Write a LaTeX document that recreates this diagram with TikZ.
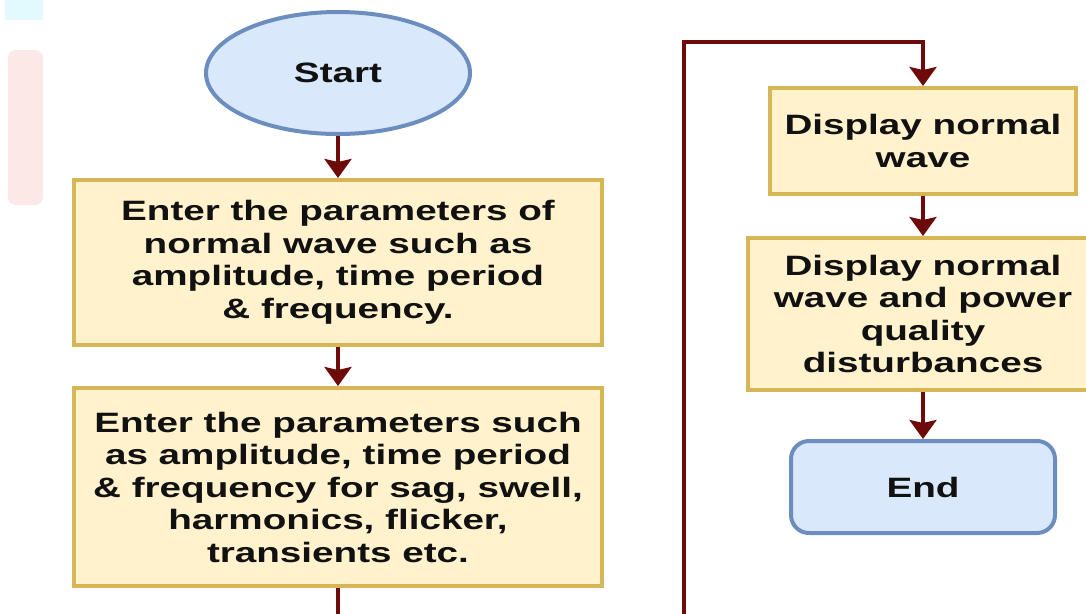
\documentclass[tikz,border=0pt]{standalone}
\usepackage{fontspec}
\newfontfamily\diafont[FakeStretch=1.38]{Liberation Sans}
\usetikzlibrary{arrows.meta,shapes.geometric}
\definecolor{yfill}{HTML}{FFF2CC}
\definecolor{ydraw}{HTML}{D6B656}
\definecolor{bfill}{HTML}{DAE8FC}
\definecolor{bdraw}{HTML}{6C8EBF}
\definecolor{arr}{HTML}{6E0A0A}
\definecolor{txt}{HTML}{111111}
\definecolor{ghostcyan}{HTML}{E2FAFD}
\definecolor{ghostpink}{HTML}{FDE8E8}
\tikzset{
  every node/.style={font=\diafont\bfseries\fontsize{28}{32.5}\selectfont, text=txt, align=center, inner sep=0pt},
  procbox/.style={rectangle, draw=ydraw, fill=yfill, line width=4pt},
  termellipse/.style={ellipse, draw=bdraw, fill=bfill, line width=4pt},
  termbox/.style={rectangle, rounded corners=18pt, draw=bdraw, fill=bfill, line width=4pt},
  flow/.style={draw=arr, line width=3.5pt, -{Stealth[length=19pt,width=27pt,inset=3pt]}}
}
\begin{document}
\begin{tikzpicture}[x=1pt,y=1pt]
\useasboundingbox (0,0) rectangle (1086,-613);
\clip (0,0) rectangle (1086,-613);
\fill[white] (0,0) rectangle (1086,-613);
% faint background artifacts
\fill[ghostcyan] (5,2) rectangle (43,-20);
\fill[ghostpink, rounded corners=8pt] (8,-50) rectangle (43,-205);

\node[termellipse, minimum width=264, minimum height=122] (start) at (338,-73) {Start};
\node[procbox, minimum width=528, minimum height=165] (p1) at (338,-262.5)
  {Enter the parameters of\\normal wave such as\\amplitude, time period\\\& frequency.};
\node[procbox, minimum width=528, minimum height=198] (p2) at (338,-487)
  {Enter the parameters such\\as amplitude, time period\\\& frequency for sag, swell,\\harmonics, flicker,\\transients etc.};
\node[procbox, minimum width=306, minimum height=106] (d1) at (923,-141)
  {Display normal\\wave};
\node[procbox, minimum width=350, minimum height=152] (d2) at (923,-314)
  {Display normal\\wave and power\\quality\\disturbances};
\node[termbox, minimum width=264, minimum height=92] (end) at (923,-487) {End};

\coordinate (b1) at (338,-660);
\coordinate (b2) at (684,-660);
\coordinate (t1) at (684,-42);

\draw[flow] (start) -- (p1);
\draw[flow] (p1) -- (p2);
\draw[flow] (p2.south) -- (b1) -- (b2) -- (t1) -| (d1.north);
\draw[flow] (d1) -- (d2);
\draw[flow] (d2) -- (end);
\end{tikzpicture}
\end{document}
